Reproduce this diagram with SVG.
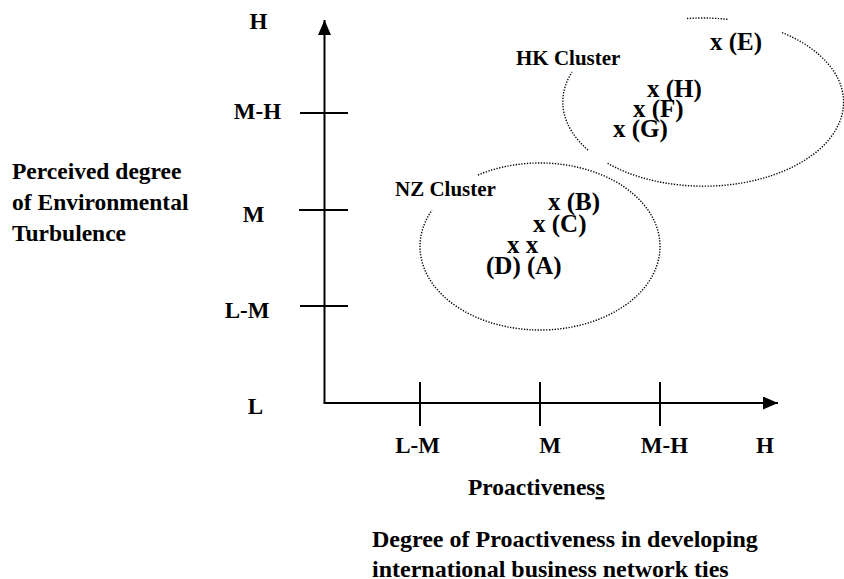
<svg xmlns="http://www.w3.org/2000/svg" width="844" height="579" viewBox="0 0 844 579">
<style>
text{font-family:"Liberation Serif","Times New Roman",serif;font-weight:bold;fill:#000}
.ax{font-size:23px;text-anchor:middle}
.pt{font-size:25px}
.cl{font-size:21px}
.lb{font-size:23.5px}
.axis{stroke:#000;stroke-width:2;fill:none}
.dot{stroke:#000;stroke-width:1.4;fill:none;stroke-dasharray:1.3 1.5}
</style>
<defs>
<marker id="arr" markerWidth="16" markerHeight="14" refX="15" refY="6.5" orient="auto" markerUnits="userSpaceOnUse">
<path d="M0,0 L15,6.5 L0,13 Z" fill="#000"/>
</marker>
</defs>
<rect width="844" height="579" fill="#fff"/>
<g id="connectors">
<line class="axis" x1="324.5" y1="403" x2="324.5" y2="20" marker-end="url(#arr)"/>
<line class="axis" x1="323.5" y1="403" x2="778" y2="403" marker-end="url(#arr)"/>
<line class="axis" x1="300" y1="113" x2="348" y2="113"/>
<line class="axis" x1="299" y1="210" x2="348" y2="210"/>
<line class="axis" x1="300" y1="306" x2="348" y2="306"/>
<line class="axis" x1="420" y1="382" x2="420" y2="426"/>
<line class="axis" x1="540" y1="382" x2="540" y2="426"/>
<line class="axis" x1="660" y1="382" x2="660" y2="426"/>
</g>
<g id="y-labels">
<text class="ax" x="258.5" y="29">H</text>
<text class="ax" x="257.5" y="119">M-H</text>
<text class="ax" x="253.5" y="222">M</text>
<text class="ax" x="247" y="318">L-M</text>
<text class="ax" x="255.5" y="414">L</text>
</g>
<g id="x-labels">
<text class="ax" x="417.5" y="453">L-M</text>
<text class="ax" x="550" y="453">M</text>
<text class="ax" x="664.5" y="453">M-H</text>
<text class="ax" x="765" y="453">H</text>
</g>
<g id="y-title">
<text class="lb" x="12" y="179">Perceived degree</text>
<text class="lb" x="12" y="210">of Environmental</text>
<text class="lb" x="12" y="241">Turbulence</text>
</g>
<g id="x-title">
<text class="lb" x="468" y="495">Proactivenes<tspan style="text-decoration:underline">s</tspan></text>
<text class="lb" x="372" y="547" style="font-size:24px">Degree of Proactiveness in developing</text>
<text class="lb" x="372" y="577" style="font-size:24px">international business network ties</text>
</g>
<g id="hk-cluster">
<path class="dot" d="M687 18.5 A140 84 0 0 1 728 19.4"/>
<path class="dot" d="M782 32.6 A140 84 0 1 1 607 163"/>
<path class="dot" d="M588 150 A140 84 0 0 1 572 72"/>
<text class="cl" x="516" y="65">HK Cluster</text>
<text class="pt" x="710" y="50">x (E)</text>
<text class="pt" x="647" y="97">x (H)</text>
<text class="pt" x="633" y="117">x (F)</text>
<text class="pt" x="613" y="137">x (G)</text>
</g>
<g id="nz-cluster">
<path class="dot" d="M478 175 A120 83.5 0 1 1 432 210.1"/>
<text class="cl" x="395" y="196">NZ Cluster</text>
<text class="pt" x="548" y="210">x (B)</text>
<text class="pt" x="533" y="232">x (C)</text>
<text class="pt" x="507" y="253">x x</text>
<text class="pt" x="486" y="274">(D) (A)</text>
</g>
</svg>
